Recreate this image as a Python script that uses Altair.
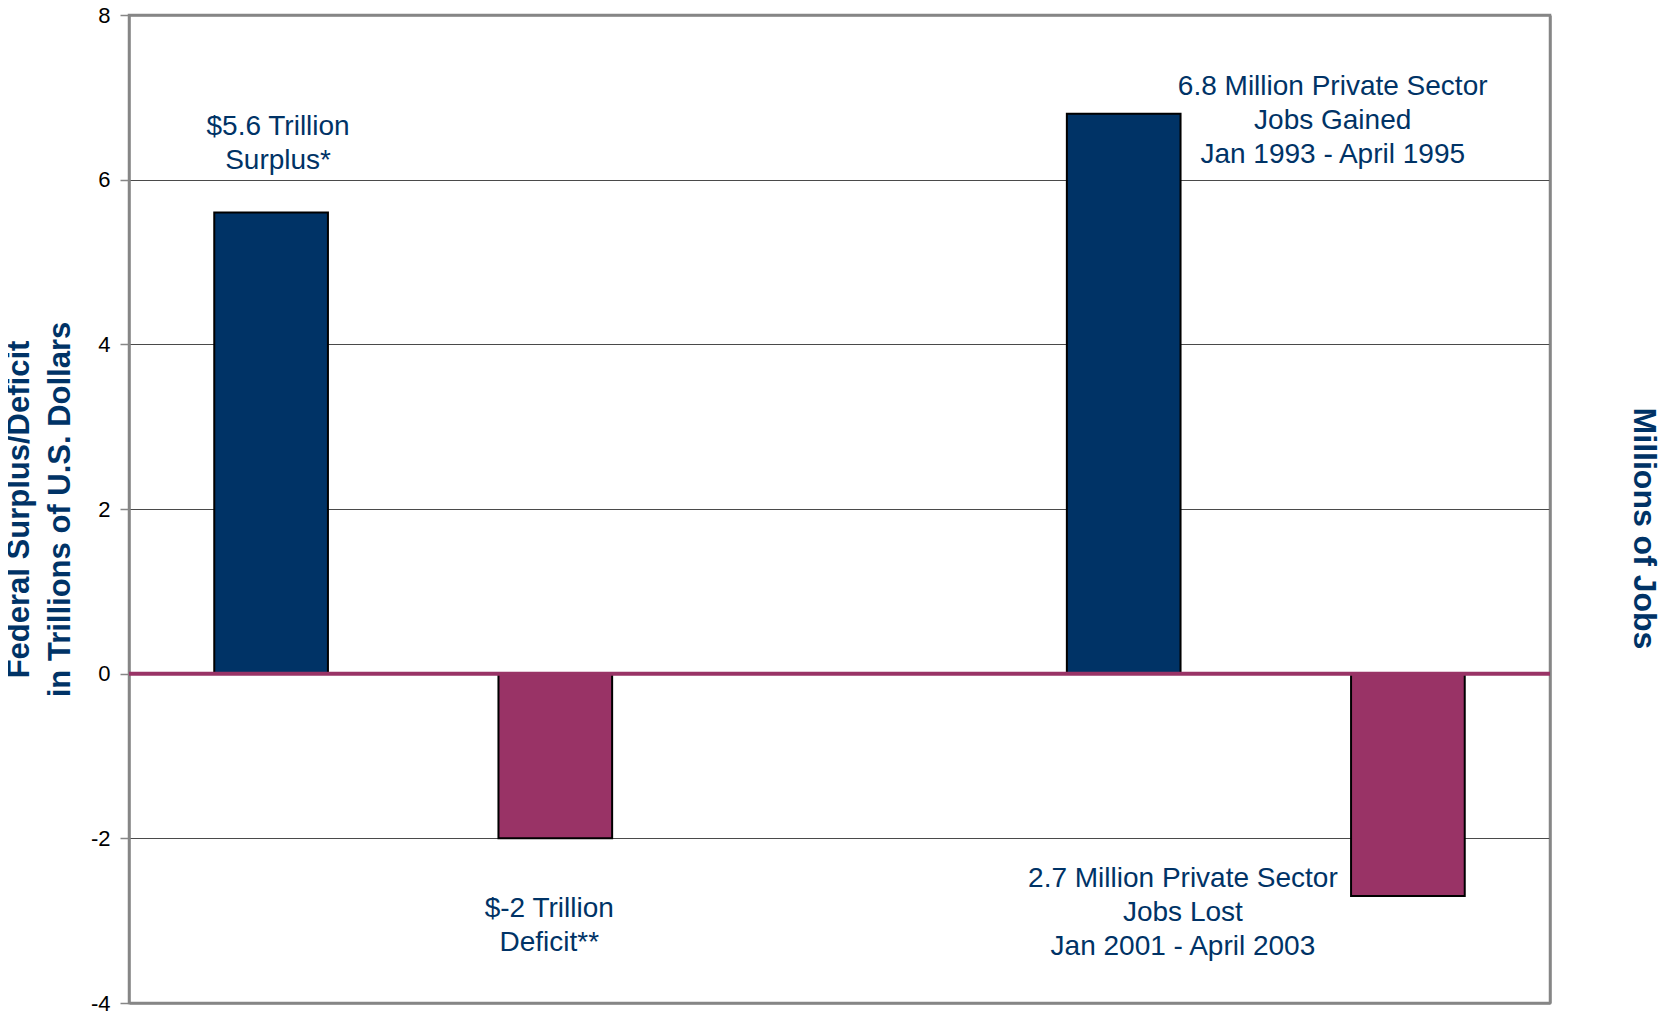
import altair as alt
import pandas as pd

# ---- data ----
slots = ["Surplus", "Deficit", " ", "Jobs Gained", "Jobs Lost"]
fiscal_cats = ["Surplus", "Deficit"]
fiscal_vals = [5.6, -2.0]
jobs_cats = ["Jobs Gained", "Jobs Lost"]
jobs_vals = [6.8, -2.7]

note_cats = ["Surplus", "Deficit", "Jobs Gained", "Jobs Lost"]
note_texts = [
    "$5.6 Trillion\nSurplus*",
    "$-2 Trillion\nDeficit**",
    "6.8 Million Private Sector\nJobs Gained\nJan 1993 - April 1995",
    "2.7 Million Private Sector\nJobs Lost\nJan 2001 - April 2003",
]
note_y = [6.54, -2.96, 7.03, -2.59]
note_dx = [7, -6, 209, -225]

y_ticks = [-4, -2, 0, 2, 4, 6, 8]
baseline_value = [0]

NAVY = "#003366"
MAROON = "#993366"
GREY = "#868686"
FONT = "Liberation Sans"

fiscal_df = pd.DataFrame({"cat": fiscal_cats, "val": fiscal_vals})
jobs_df = pd.DataFrame({"cat": jobs_cats, "val": jobs_vals})
zero_df = pd.DataFrame({"val": baseline_value})

xenc = alt.X("cat:N", scale=alt.Scale(domain=slots, paddingInner=0.6, paddingOuter=0.3), axis=None)
color_cond = alt.condition("datum.val >= 0", alt.value(NAVY), alt.value(MAROON))

edge = "datum.value == 8 || datum.value == -4"

left_axis = alt.Axis(
    values=y_ticks,
    labelExpr="'' + datum.value",
    title=["Federal Surplus/Deficit", "in Trillions of U.S. Dollars"],
    titleX=-101,
    grid=True,
    gridColor=alt.condition(edge, alt.value(GREY), alt.value("#4a4a4a")),
    gridWidth=alt.condition(edge, alt.value(2.5), alt.value(1.2)),
)

right_axis = alt.Axis(
    orient="right",
    values=y_ticks,
    labels=False, ticks=False, grid=False,
    title="Millions of Jobs",
    titleX=83, titleY=513,
)

yscale = alt.Scale(domain=[-4, 8], nice=False, zero=False)

fiscal_bars = alt.Chart(fiscal_df).mark_bar(stroke="black", strokeWidth=2).encode(
    x=xenc,
    y=alt.Y("val:Q", scale=yscale, axis=left_axis),
    y2=alt.datum(0),
    color=color_cond,
)

notes = []
for c, t, yv, dx in zip(note_cats, note_texts, note_y, note_dx):
    ndf = pd.DataFrame({"cat": [c], "label": [t], "val": [yv]})
    notes.append(
        alt.Chart(ndf).mark_text(
            lineBreak="\n", font=FONT, fontSize=28, color=NAVY,
            align="center", baseline="alphabetic", lineHeight=34, dx=dx,
        ).encode(x=xenc, y=alt.Y("val:Q", scale=yscale, axis=left_axis), text="label:N")
    )

left_layer = alt.layer(fiscal_bars, *notes)

jobs_bars = alt.Chart(jobs_df).mark_bar(stroke="black", strokeWidth=2).encode(
    x=xenc,
    y=alt.Y("val:Q", scale=yscale, axis=right_axis),
    y2=alt.datum(0),
    color=color_cond,
)

zero_rule = alt.Chart(zero_df).mark_rule(color=MAROON, strokeWidth=4).encode(
    y=alt.Y("val:Q", scale=yscale, axis=right_axis)
)

right_layer = alt.layer(jobs_bars, zero_rule)

chart = (
    alt.layer(left_layer, right_layer)
    .resolve_scale(y="independent")
    .properties(
        width=1421, height=988,
        autosize=alt.AutoSizeParams(type="none"),
        padding={"left": 121, "top": 7, "right": 110, "bottom": 14},
    )
    .configure(background="white")
    .configure_view(stroke=GREY, strokeWidth=2.5)
    .configure_axisLeft(
        labelFont=FONT, labelFontSize=22, labelColor="black", labelPadding=10,
        tickColor=GREY, tickSize=9, tickWidth=1.5,
        domain=True, domainColor=GREY, domainWidth=2.5,
        titleFont=FONT, titleFontSize=31, titleFontWeight="bold", titleColor=NAVY,
        titleAngle=-90, titleBaseline="alphabetic", titleAlign="center",
        titleLineHeight=41,
    )
    .configure_axisRight(
        domain=True, domainColor=GREY, domainWidth=2.5,
        titleFont=FONT, titleFontSize=32, titleFontWeight="bold", titleColor=NAVY,
        titleAngle=90, titleBaseline="alphabetic", titleAlign="center",
    )
)

chart.save("out.html", embed_options={"renderer": "svg", "actions": False})
